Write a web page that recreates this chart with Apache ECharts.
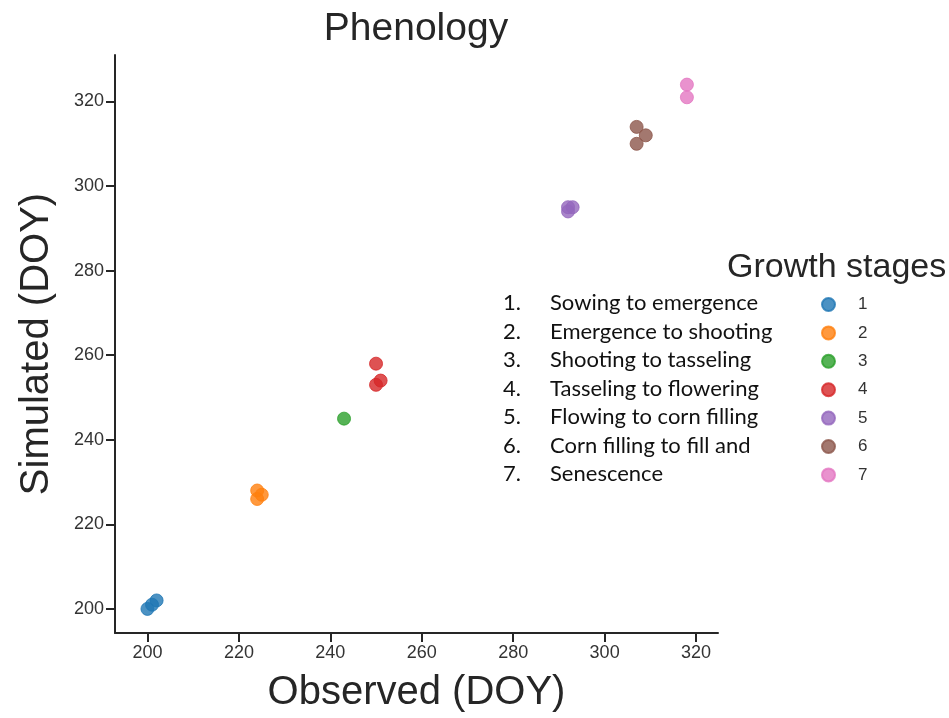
<!DOCTYPE html>
<html>
<head>
<meta charset="utf-8">
<title>Phenology</title>
<script src="https://cdn.jsdelivr.net/npm/echarts@6/dist/echarts.min.js"></script>
<style>
  html, body { margin: 0; padding: 0; background: #fff; }
  #chart { width: 949px; height: 718px; }
</style>
</head>
<body>
<div id="chart"></div>
<script>
// Observed vs simulated day-of-year for each maize growth stage
const stageIds = ['1', '2', '3', '4', '5', '6', '7'];
const stageNames = [
  'Sowing to emergence',
  'Emergence to shooting',
  'Shooting to tasseling',
  'Tasseling to flowering',
  'Flowing to corn filling',
  'Corn filling to fill and',
  'Senescence'
];
const stageColors = ['#1f77b4', '#ff7f0e', '#2ca02c', '#d62728', '#9467bd', '#8c564b', '#e377c2'];

// [observed DOY, simulated DOY]
const stage1 = [[200, 200], [201, 201], [202, 202]];
const stage2 = [[224, 228], [224, 226], [225, 227]];
const stage3 = [[243, 245]];
const stage4 = [[250, 258], [250, 253], [251, 254]];
const stage5 = [[292, 294], [292, 295], [293, 295]];
const stage6 = [[307, 314], [309, 312], [307, 310]];
const stage7 = [[318, 324], [318, 321]];
const stageData = [stage1, stage2, stage3, stage4, stage5, stage6, stage7];

const tickValues = [200, 220, 240, 260, 280, 300, 320];

const axisColor = '#262626';
const labelFont = 'Liberation Sans, Arial, sans-serif';
const listFont = '22px Lato, "Open Sans", sans-serif';
const rowStep = 28.5;

const chart = echarts.init(document.getElementById('chart'), null, { renderer: 'canvas' });

const axisCommon = {
  type: 'value',
  nameLocation: 'middle',
  nameTextStyle: { fontSize: 40, color: '#262626', fontFamily: labelFont },
  axisLine: { show: true, onZero: false, lineStyle: { color: axisColor, width: 2 } },
  axisTick: { show: true, customValues: tickValues, length: 9, lineStyle: { color: axisColor, width: 2 } },
  axisLabel: { customValues: tickValues, fontSize: 18, color: '#333', fontFamily: labelFont, margin: 11 },
  splitLine: { show: false }
};

// Numbered description of each stage, aligned with the legend rows
const listGraphics = [];
stageNames.forEach((name, i) => {
  const y = 303 + i * rowStep;
  listGraphics.push({
    type: 'text', left: 503, top: y - 11,
    style: { text: (i + 1) + '.', font: listFont, fill: '#111' }
  });
  listGraphics.push({
    type: 'text', left: 550, top: y - 11,
    style: { text: name, font: listFont, fill: '#111' }
  });
});

chart.setOption({
  backgroundColor: '#fff',
  animation: false,
  title: {
    text: 'Phenology',
    left: 411,
    textAlign: 'center',
    top: 5,
    textStyle: { fontSize: 39, fontWeight: 'normal', color: '#262626', fontFamily: labelFont }
  },
  grid: { left: 115, right: 231, top: 55, bottom: 85, containLabel: false },
  xAxis: Object.assign({}, axisCommon, {
    name: 'Observed (DOY)',
    nameGap: 40,
    min: 192.9,
    max: 324.8
  }),
  yAxis: Object.assign({}, axisCommon, {
    name: 'Simulated (DOY)',
    nameGap: 58,
    min: 194.3,
    max: 331
  }),
  legend: {
    orient: 'vertical',
    left: 816,
    top: 291,
    icon: 'circle',
    itemWidth: 13,
    itemHeight: 13,
    itemGap: rowStep - 17.1,
    data: stageIds,
    textStyle: { fontSize: 17, color: '#333', fontFamily: labelFont, padding: [0, 0, 0, 18] }
  },
  graphic: [
    {
      type: 'text', left: 727, top: 251,
      style: { text: 'Growth stages', font: '34px "Liberation Sans", Arial, sans-serif', fill: '#262626' }
    }
  ].concat(listGraphics),
  series: stageIds.map((id, i) => ({
    name: id,
    type: 'scatter',
    symbol: 'circle',
    symbolSize: 13,
    data: stageData[i],
    itemStyle: { color: stageColors[i], opacity: 0.8, borderColor: stageColors[i], borderWidth: 1 }
  }))
});
</script>
</body>
</html>
